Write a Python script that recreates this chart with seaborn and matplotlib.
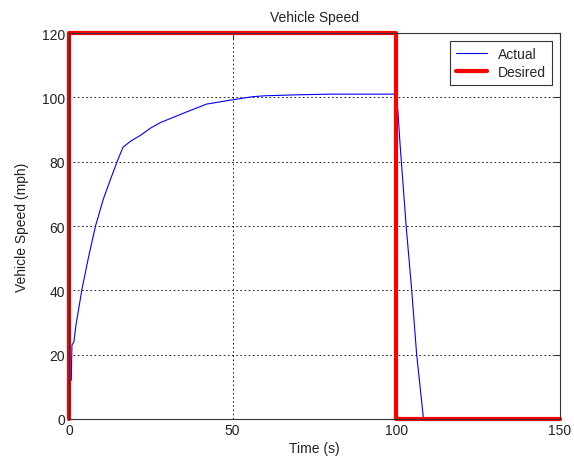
import numpy as np
import pandas as pd
import seaborn as sns
import matplotlib.pyplot as plt

# values
t_actual = [0.7, 0.9, 1.5, 2.1, 3.0, 3.9, 6.0, 8.1, 10.5, 12.5, 14.7, 16.5, 19.0,
            21.7, 25.0, 28.0, 31.9, 36.0, 42.0, 49.7, 56.0, 60.0, 70.0, 80.0,
            90.0, 100.0, 100.5, 101.1, 103.0, 104.7, 106.2, 108.3, 150.0]
v_actual = [12.0, 23.0, 24.0, 29.0, 34.5, 40.0, 50.5, 60.0, 68.4, 74.0, 80.0, 84.5, 86.5,
            88.1, 90.5, 92.2, 93.8, 95.5, 97.9, 99.2, 100.2, 100.5, 100.8, 101.0,
            101.0, 101.0, 95.4, 86.0, 60.0, 40.0, 20.2, 0.0, 0.0]

t_desired = [0, 0, 100, 100, 150]
v_desired = [0, 120, 120, 0, 0]

actual = pd.DataFrame({"t": t_actual, "v": v_actual})
desired = pd.DataFrame({"t": t_desired, "v": v_desired})

sns.set_style("white")
plt.rcParams["font.family"] = ["Liberation Sans", "DejaVu Sans"]

fig = plt.figure(figsize=(5.74, 4.6), dpi=100)
ax = fig.add_axes([0.1202, 0.087, 0.8554, 0.839])

sns.lineplot(data=actual, x="t", y="v", ax=ax, color="#0000ff", linewidth=0.8,
             sort=False, estimator=None, label="Actual")
sns.lineplot(data=desired, x="t", y="v", ax=ax, color="#ff0000", linewidth=3,
             sort=False, estimator=None, label="Desired")
ax.lines[-1].set_clip_on(False)

ax.set_xlim(0, 150)
ax.set_ylim(0, 120)
ax.set_xticks([0, 50, 100, 150])
ax.set_yticks(np.arange(0, 121, 20))
ax.grid(True, color="black", linestyle=(0, (2, 3)), linewidth=0.6)
ax.tick_params(direction="in", length=4, labelsize=10, top=True, right=True,
               colors="#333333", labelcolor="#222222", pad=3)
for s in ax.spines.values():
    s.set_color("#333333")
    s.set_linewidth(0.8)

ax.set_title("Vehicle Speed", fontsize=10, color="#222222", pad=9)
ax.set_xlabel("Time (s)", fontsize=10, color="#222222", labelpad=3)
ax.set_ylabel("Vehicle Speed (mph)", fontsize=10, color="#222222", labelpad=9)

leg = ax.legend(loc="upper right", fontsize=10, fancybox=False, framealpha=1,
                edgecolor="#333333", handlelength=2.2, borderpad=0.45,
                labelspacing=0.3, borderaxespad=0.55)
leg.get_frame().set_linewidth(0.8)

fig.savefig("out.png", dpi=100)
